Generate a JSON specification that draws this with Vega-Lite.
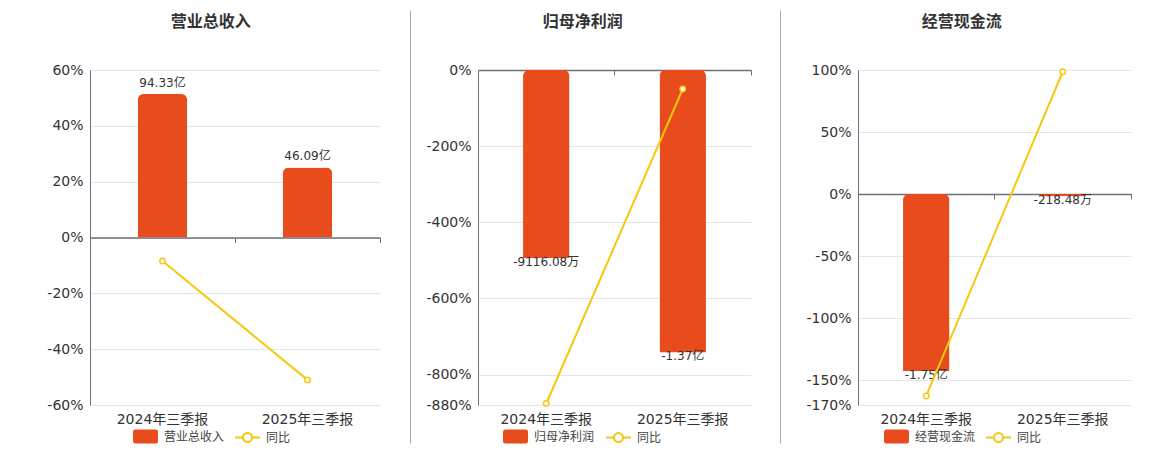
{
  "$schema": "https://vega.github.io/schema/vega-lite/v6.json",
  "padding": {"left": 46, "top": 14, "right": 0, "bottom": 0},
  "spacing": 15,
  "config": {
    "view": {"stroke": null},
    "font": "DejaVu Sans, Noto Sans CJK SC",
    "axis": {"labelFont": "DejaVu Sans, Noto Sans CJK SC"}
  },
  "resolve": {"scale": {"x": "independent", "y": "independent", "fill": "independent", "stroke": "independent"}},
  "hconcat": [
    {
      "width": 290, "height": 335,
      "title": {"text": "营业总收入", "frame": "bounds", "anchor": "middle", "dx": -3, "offset": 33, "fontSize": 16, "fontWeight": "bold", "color": "#333"},
      "data": {"values": [
        {"period": "2024年三季报", "series": "营业总收入", "value": 94.33, "label": "94.33亿", "yoyName": "同比", "yoy": -8.4},
        {"period": "2025年三季报", "series": "营业总收入", "value": 46.09, "label": "46.09亿", "yoyName": "同比", "yoy": -51.0}
      ]},
      "layer": [
        {
          "encoding": {
            "x": {"field": "period", "type": "nominal", "sort": null, "scale": {"paddingInner": 0, "paddingOuter": 0},
                  "axis": {"orient": "bottom", "domain": false, "ticks": false, "labelPadding": 7, "labelFontSize": 14, "labelColor": "#333", "title": null, "labelAngle": 0}},
            "y": {"field": "value", "type": "quantitative", "scale": {"domain": [-110.1, 110.1], "nice": false}, "axis": null}
          },
          "layer": [
            {"mark": {"type": "bar", "width": {"band": 0.34}, "cornerRadiusEnd": 6},
             "encoding": {"fill": {"field": "series", "type": "nominal", "scale": {"range": ["#E84B1C"]},
               "legend": {"orient": "none", "legendX": 43, "legendY": 354, "title": null, "padding": 0,
                 "symbolType": "M-0.8,-0.56 L0.8,-0.56 Q1,-0.56 1,-0.36 L1,0.36 Q1,0.56 0.8,0.56 L-0.8,0.56 Q-1,0.56 -1,0.36 L-1,-0.36 Q-1,-0.56 -0.8,-0.56 Z",
                 "symbolSize": 625, "symbolStrokeWidth": 0, "labelFontSize": 12, "labelColor": "#444", "labelOffset": 6}}}},
            {"mark": {"type": "text", "baseline": "bottom", "dy": -4, "fontSize": 12, "color": "#333"},
             "encoding": {"text": {"field": "label", "type": "nominal"}}}
          ]
        },
        {
          "mark": {"type": "line", "strokeWidth": 2, "point": {"filled": false, "fill": "#fff", "size": 30, "strokeWidth": 1.5}},
          "encoding": {
            "x": {"field": "period", "type": "nominal", "sort": null,
                  "axis": {"orient": "bottom", "offset": -167.5, "labels": false, "ticks": true, "tickSize": 5, "tickColor": "#6E7079", "domain": true, "domainColor": "#6E7079", "domainWidth": 1.5, "bandPosition": 1, "grid": false, "title": null}},
            "y": {"field": "yoy", "type": "quantitative", "scale": {"domain": [-60, 60], "nice": false, "zero": false},
                  "axis": {"orient": "left", "values": [-60, -40, -20, 0, 20, 40, 60], "labelExpr": "datum.value + '%'", "labelFontSize": 14, "labelColor": "#333", "ticks": false, "labelPadding": 7, "domain": true, "domainColor": "#6E7079", "grid": true, "gridColor": "#E0E6F1", "title": null, "labelOverlap": false}},
            "stroke": {"field": "yoyName", "type": "nominal", "scale": {"range": ["#F5C80F"]},
              "legend": {"orient": "none", "legendX": 144, "legendY": 354, "title": null, "padding": 0,
                "symbolType": "M-1,0 L-0.36,0 M0.36,0 A0.36,0.36 0 1 1 -0.36,0 A0.36,0.36 0 1 1 0.36,0 M0.36,0 L1,0",
                "symbolSize": 625, "symbolStrokeWidth": 2, "symbolFillColor": "#fff", "labelFontSize": 12, "labelColor": "#444", "labelOffset": 5}}
          }
        }
      ],
      "resolve": {"scale": {"y": "independent"}, "axis": {"x": "independent"}}
    },
    {
      "width": 14, "height": 373,
      "data": {"values": []},
      "mark": "rule",
      "encoding": {"y": {"field": "v", "type": "quantitative", "scale": {"domain": [0, 1], "range": [373, -60]},
        "axis": {"orient": "right", "domainColor": "#AAAAAA", "domainWidth": 1, "ticks": false, "labels": false, "grid": false, "title": null, "values": []}}}
    },
    {
      "width": 273, "height": 335,
      "title": {"text": "归母净利润", "frame": "bounds", "anchor": "middle", "dx": -6, "offset": 33, "fontSize": 16, "fontWeight": "bold", "color": "#333"},
      "data": {"values": [
        {"period": "2024年三季报", "series": "归母净利润", "value": -0.911608, "label": "-9116.08万", "yoyName": "同比", "yoy": -876},
        {"period": "2025年三季报", "series": "归母净利润", "value": -1.37, "label": "-1.37亿", "yoyName": "同比", "yoy": -49.9}
      ]},
      "layer": [
        {
          "encoding": {
            "x": {"field": "period", "type": "nominal", "sort": null, "scale": {"paddingInner": 0, "paddingOuter": 0},
                  "axis": {"orient": "bottom", "domain": false, "ticks": false, "labelPadding": 7, "labelFontSize": 14, "labelColor": "#333", "title": null, "labelAngle": 0}},
            "y": {"field": "value", "type": "quantitative", "scale": {"domain": [-1.625, 0], "nice": false}, "axis": null}
          },
          "layer": [
            {"mark": {"type": "bar", "width": {"band": 0.34}, "cornerRadiusEnd": 6},
             "encoding": {"fill": {"field": "series", "type": "nominal", "scale": {"range": ["#E84B1C"]},
               "legend": {"orient": "none", "legendX": 25, "legendY": 354, "title": null, "padding": 0,
                 "symbolType": "M-0.8,-0.56 L0.8,-0.56 Q1,-0.56 1,-0.36 L1,0.36 Q1,0.56 0.8,0.56 L-0.8,0.56 Q-1,0.56 -1,0.36 L-1,-0.36 Q-1,-0.56 -0.8,-0.56 Z",
                 "symbolSize": 625, "symbolStrokeWidth": 0, "labelFontSize": 12, "labelColor": "#444", "labelOffset": 6}}}},
            {"mark": {"type": "text", "baseline": "top", "dy": -1, "fontSize": 12, "color": "#333"},
             "encoding": {"text": {"field": "label", "type": "nominal"}}}
          ]
        },
        {
          "mark": {"type": "line", "strokeWidth": 2, "point": {"filled": false, "fill": "#fff", "size": 30, "strokeWidth": 1.5}},
          "encoding": {
            "x": {"field": "period", "type": "nominal", "sort": null,
                  "axis": {"orient": "bottom", "offset": -335, "labels": false, "ticks": true, "tickSize": 5, "tickColor": "#6E7079", "domain": true, "domainColor": "#6E7079", "domainWidth": 1.5, "bandPosition": 1, "grid": false, "title": null}},
            "y": {"field": "yoy", "type": "quantitative", "scale": {"domain": [-880, 0], "nice": false, "zero": false},
                  "axis": {"orient": "left", "values": [-880, -800, -600, -400, -200, 0], "labelExpr": "datum.value + '%'", "labelFontSize": 14, "labelColor": "#333", "ticks": false, "labelPadding": 7, "domain": true, "domainColor": "#6E7079", "grid": true, "gridColor": "#E0E6F1", "title": null, "labelOverlap": false}},
            "stroke": {"field": "yoyName", "type": "nominal", "scale": {"range": ["#F5C80F"]},
              "legend": {"orient": "none", "legendX": 127, "legendY": 354, "title": null, "padding": 0,
                "symbolType": "M-1,0 L-0.36,0 M0.36,0 A0.36,0.36 0 1 1 -0.36,0 A0.36,0.36 0 1 1 0.36,0 M0.36,0 L1,0",
                "symbolSize": 625, "symbolStrokeWidth": 2, "symbolFillColor": "#fff", "labelFontSize": 12, "labelColor": "#444", "labelOffset": 5}}
          }
        }
      ],
      "resolve": {"scale": {"y": "independent"}, "axis": {"x": "independent"}}
    },
    {
      "width": 23, "height": 373,
      "data": {"values": []},
      "mark": "rule",
      "encoding": {"y": {"field": "v", "type": "quantitative", "scale": {"domain": [0, 1], "range": [373, -60]},
        "axis": {"orient": "right", "offset": -10, "domainColor": "#AAAAAA", "domainWidth": 1, "ticks": false, "labels": false, "grid": false, "title": null, "values": []}}}
    },
    {
      "width": 273, "height": 335,
      "title": {"text": "经营现金流", "frame": "bounds", "anchor": "middle", "dx": -7, "offset": 33, "fontSize": 16, "fontWeight": "bold", "color": "#333"},
      "data": {"values": [
        {"period": "2024年三季报", "series": "经营现金流", "value": -1.75, "label": "-1.75亿", "yoyName": "同比", "yoy": -162.7},
        {"period": "2025年三季报", "series": "经营现金流", "value": -0.021848, "label": "-218.48万", "yoyName": "同比", "yoy": 98.6}
      ]},
      "layer": [
        {
          "encoding": {
            "x": {"field": "period", "type": "nominal", "sort": null, "scale": {"paddingInner": 0, "paddingOuter": 0},
                  "axis": {"orient": "bottom", "domain": false, "ticks": false, "labelPadding": 7, "labelFontSize": 14, "labelColor": "#333", "title": null, "labelAngle": 0}},
            "y": {"field": "value", "type": "quantitative", "scale": {"domain": [-2.085, 1.2265], "nice": false}, "axis": null}
          },
          "layer": [
            {"mark": {"type": "bar", "width": {"band": 0.34}, "cornerRadiusEnd": 6},
             "encoding": {"fill": {"field": "series", "type": "nominal", "scale": {"range": ["#E84B1C"]},
               "legend": {"orient": "none", "legendX": 26, "legendY": 354, "title": null, "padding": 0,
                 "symbolType": "M-0.8,-0.56 L0.8,-0.56 Q1,-0.56 1,-0.36 L1,0.36 Q1,0.56 0.8,0.56 L-0.8,0.56 Q-1,0.56 -1,0.36 L-1,-0.36 Q-1,-0.56 -0.8,-0.56 Z",
                 "symbolSize": 625, "symbolStrokeWidth": 0, "labelFontSize": 12, "labelColor": "#444", "labelOffset": 6}}}},
            {"mark": {"type": "text", "baseline": "top", "dy": -1, "fontSize": 12, "color": "#333"},
             "encoding": {"text": {"field": "label", "type": "nominal"}}}
          ]
        },
        {
          "mark": {"type": "line", "strokeWidth": 2, "point": {"filled": false, "fill": "#fff", "size": 30, "strokeWidth": 1.5}},
          "encoding": {
            "x": {"field": "period", "type": "nominal", "sort": null,
                  "axis": {"orient": "bottom", "offset": -211, "labels": false, "ticks": true, "tickSize": 5, "tickColor": "#6E7079", "domain": true, "domainColor": "#6E7079", "domainWidth": 1.5, "bandPosition": 1, "grid": false, "title": null}},
            "y": {"field": "yoy", "type": "quantitative", "scale": {"domain": [-170, 100], "nice": false, "zero": false},
                  "axis": {"orient": "left", "values": [-170, -150, -100, -50, 0, 50, 100], "labelExpr": "datum.value + '%'", "labelFontSize": 14, "labelColor": "#333", "ticks": false, "labelPadding": 7, "domain": true, "domainColor": "#6E7079", "grid": true, "gridColor": "#E0E6F1", "title": null, "labelOverlap": false}},
            "stroke": {"field": "yoyName", "type": "nominal", "scale": {"range": ["#F5C80F"]},
              "legend": {"orient": "none", "legendX": 127, "legendY": 354, "title": null, "padding": 0,
                "symbolType": "M-1,0 L-0.36,0 M0.36,0 A0.36,0.36 0 1 1 -0.36,0 A0.36,0.36 0 1 1 0.36,0 M0.36,0 L1,0",
                "symbolSize": 625, "symbolStrokeWidth": 2, "symbolFillColor": "#fff", "labelFontSize": 12, "labelColor": "#444", "labelOffset": 5}}
          }
        }
      ],
      "resolve": {"scale": {"y": "independent"}, "axis": {"x": "independent"}}
    }
  ]
}
